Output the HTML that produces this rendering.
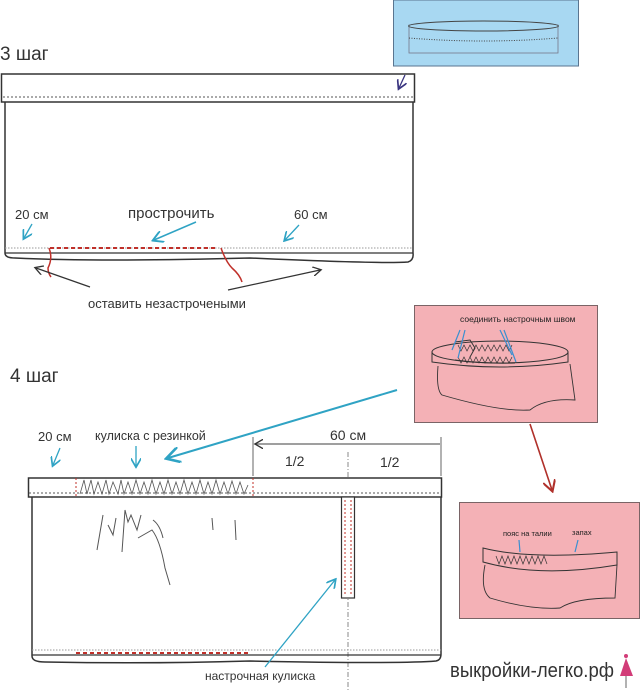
<!DOCTYPE html>
<html><head><meta charset="utf-8"><style>
html,body{margin:0;padding:0;background:#fff;}
svg{display:block;}
text{font-family:"Liberation Sans",sans-serif;fill:#333;}
</style></head><body>
<svg width="641" height="690" viewBox="0 0 641 690" xmlns="http://www.w3.org/2000/svg">
<defs>
<marker id="ab" markerWidth="8" markerHeight="8" refX="6" refY="4" orient="auto"><path d="M0,0 L7,4 L0,8" fill="none" stroke="#2fa3c4" stroke-width="1.3"/></marker>
<marker id="ak" markerWidth="8" markerHeight="8" refX="6" refY="4" orient="auto"><path d="M0,0 L7,4 L0,8" fill="none" stroke="#333" stroke-width="1.1"/></marker>
<marker id="ar" markerWidth="8" markerHeight="8" refX="6" refY="4" orient="auto"><path d="M0,0 L7,4 L0,8" fill="none" stroke="#b0302a" stroke-width="1.3"/></marker>
<marker id="ap" markerWidth="8" markerHeight="8" refX="6" refY="4" orient="auto"><path d="M0,0 L7,4 L0,8" fill="none" stroke="#3a3580" stroke-width="1.3"/></marker>
</defs>

<rect x="393.5" y="0" width="185" height="66" fill="#a8d8f2" stroke="#5a7590" stroke-width="1"/>
<rect x="409" y="25" width="149" height="28" fill="none" stroke="#778" stroke-width="0.8"/>
<ellipse cx="483.5" cy="26" rx="75" ry="5" fill="#a8d8f2" stroke="#444" stroke-width="1"/>
<path d="M409 38 Q483 44 558 38" fill="none" stroke="#444" stroke-dasharray="1,1.5"/>
<path d="M405 75 L399 88" stroke="#3a3580" stroke-width="1.3" marker-end="url(#ap)"/>

<text x="0" y="60" font-size="19">3 шаг</text>
<rect x="1.5" y="74" width="413" height="28" fill="none" stroke="#333" stroke-width="1.5"/>
<line x1="3" y1="97" x2="413" y2="97" stroke="#555" stroke-dasharray="2,2"/>
<path d="M5 102 L5 253 Q5 258 15 258 Q100 262 250 258 Q380 264 408 262 Q414 260 413 253 L413 102" fill="none" stroke="#333" stroke-width="1.5"/>
<line x1="5" y1="253" x2="413" y2="253" stroke="#333" stroke-width="1.3"/>
<line x1="5" y1="248" x2="413" y2="248" stroke="#999" stroke-dasharray="1.5,1.5"/>
<line x1="50" y1="248" x2="218" y2="248" stroke="#c0302a" stroke-width="2" stroke-dasharray="4,3"/>
<path d="M49 248 Q53 258 48 268 Q48 273 51 277" fill="none" stroke="#c0302a" stroke-width="1.5"/>
<path d="M221 248 Q226 262 232 268 Q240 275 242 282" fill="none" stroke="#c0302a" stroke-width="1.5"/>
<text x="15" y="219" font-size="13">20 см</text>
<text x="128" y="218" font-size="15">прострочить</text>
<text x="294" y="219" font-size="13">60 см</text>
<path d="M32 224 L24 238" stroke="#2fa3c4" stroke-width="1.3" marker-end="url(#ab)"/>
<path d="M196 222 L154 240" stroke="#2fa3c4" stroke-width="1.5" marker-end="url(#ab)"/>
<path d="M299 225 L285 240" stroke="#2fa3c4" stroke-width="1.3" marker-end="url(#ab)"/>
<path d="M90 287 L36 268" stroke="#333" stroke-width="1.2" marker-end="url(#ak)"/>
<path d="M228 290 L320 270" stroke="#333" stroke-width="1.2" marker-end="url(#ak)"/>
<text x="88" y="308" font-size="13">оставить незастрочеными</text>

<rect x="414.5" y="305.5" width="183" height="117" fill="#f4b1b6" stroke="#7a6466" stroke-width="1"/>
<text x="460" y="322" font-size="8.5" style="fill:#222">соединить настрочным швом</text>
<ellipse cx="500" cy="352" rx="68" ry="11" fill="none" stroke="#333" stroke-width="1"/>
<path d="M432 352 L432 362 Q500 372 568 362 L568 352" fill="none" stroke="#333"/>
<path d="M455 342 L470 340 L475 348 L470 357 M455 360 Q485 364 515 363" fill="none" stroke="#333"/>
<path d="M458 345 l3,6 l3,-6 l3,6 l3,-6 l3,6 l3,-6 l3,6 l3,-6 l3,6 l3,-6 l3,6 l3,-6 l3,6 l3,-6 l3,6 l3,-6 l3,6 l3,-6 M458 357 l3,6 l3,-6 l3,6 l3,-6 l3,6 l3,-6 l3,6 l3,-6 l3,6 l3,-6 l3,6 l3,-6 l3,6 l3,-6 l3,6 l3,-6 l3,6 l3,-6" fill="none" stroke="#333" stroke-width="0.7"/>
<path d="M438 366 Q436 390 442 395 Q500 412 530 410 Q545 398 575 400 L570 364" fill="none" stroke="#333" stroke-width="0.9"/>
<path d="M460 330 L452 350 M465 330 L458 358 M500 330 L512 355 M504 330 L516 362" stroke="#3a8fd0" stroke-width="1.2"/>
<path d="M530 424 L552 490" stroke="#b0302a" stroke-width="1.6" marker-end="url(#ar)"/>

<rect x="459.5" y="502.5" width="180" height="116" fill="#f4b1b6" stroke="#7a6466" stroke-width="1"/>
<text x="503" y="536" font-size="7.5" style="fill:#222">пояс на талии</text>
<text x="572" y="535" font-size="7.5" style="fill:#222">запах</text>
<path d="M519 540 L520 552 M578 540 L575 552" stroke="#3a8fd0" stroke-width="1.2"/>
<path d="M483 548 Q530 560 617 552 L617 565 Q540 578 483 562 Z" fill="none" stroke="#333"/>
<path d="M496 556 l3,8 l3,-8 l3,8 l3,-8 l3,8 l3,-8 l3,8 l3,-8 l3,8 l3,-8 l3,8 l3,-8 l3,8 l3,-8 l3,8 l3,-8 l3,8" fill="none" stroke="#333" stroke-width="0.7"/>
<path d="M485 565 Q480 590 490 598 Q530 610 560 608 Q575 598 615 598 L617 565" fill="none" stroke="#333" stroke-width="0.9"/>

<text x="10" y="382" font-size="19">4 шаг</text>
<path d="M397 390 L168 458" stroke="#2fa3c4" stroke-width="2" marker-end="url(#ab)"/>
<text x="38" y="441" font-size="13">20 см</text>
<text x="95" y="440" font-size="12.5">кулиска с резинкой</text>
<text x="330" y="440" font-size="14">60 см</text>
<path d="M60 448 L53 465" stroke="#2fa3c4" stroke-width="1.3" marker-end="url(#ab)"/>
<path d="M136 446 L136 466" stroke="#2fa3c4" stroke-width="1.3" marker-end="url(#ab)"/>
<line x1="253" y1="437" x2="253" y2="476" stroke="#666"/>
<line x1="441" y1="437" x2="441" y2="476" stroke="#666"/>
<path d="M440 444 L256 444" stroke="#666" stroke-width="1.2" marker-end="url(#ak)"/>
<text x="285" y="466" font-size="14">1/2</text>
<text x="380" y="467" font-size="14">1/2</text>
<line x1="348" y1="452" x2="348" y2="690" stroke="#888" stroke-dasharray="5,2,1,2"/>

<rect x="28.5" y="478" width="413" height="19" fill="#fff" stroke="#333" stroke-width="1.5"/>
<line x1="29" y1="493" x2="441" y2="493" stroke="#555" stroke-dasharray="2,2"/>
<line x1="76" y1="478" x2="76" y2="496" stroke="#c0302a" stroke-dasharray="2,2"/>
<line x1="253" y1="478" x2="253" y2="496" stroke="#c0302a" stroke-dasharray="2,2"/>
<path d="M80 494 L84 480 L87 494 L91 480 L94 494 L98 482 L102 494 L106 480 L109 494 L113 482 L118 494 L121 480 L124 494 L128 482 L132 494 L136 480 L140 494 L144 482 L148 494 L152 480 L156 494 L160 482 L164 494 L168 480 L172 494 L176 482 L180 494 L184 480 L188 494 L192 482 L196 494 L200 480 L204 494 L208 482 L212 494 L216 480 L220 494 L224 482 L228 494 L232 481 L236 494 L240 482 L244 494 L248 485" fill="none" stroke="#555" stroke-width="0.8"/>
<path d="M32 497 L32 656 Q32 662 45 662 Q150 664 250 661 Q400 664 436 661 Q441 660 441 654 L441 497" fill="none" stroke="#333" stroke-width="1.5"/>
<line x1="32" y1="655" x2="441" y2="655" stroke="#333" stroke-width="1.3"/>
<line x1="32" y1="650" x2="441" y2="650" stroke="#999" stroke-dasharray="1.5,1.5"/>
<line x1="76" y1="653" x2="250" y2="653" stroke="#c0302a" stroke-width="2" stroke-dasharray="4,3"/>
<rect x="341.5" y="497" width="13" height="101" fill="#fff" stroke="#333" stroke-width="1.2"/>
<line x1="345" y1="500" x2="345" y2="596" stroke="#c0302a" stroke-dasharray="2,2"/>
<line x1="351" y1="500" x2="351" y2="596" stroke="#c0302a" stroke-dasharray="2,2"/>
<path d="M97 550 L103 515 M108 525 L113 535 L116 518 M122 552 L125 510 L128 522 L131 515 L137 530 L141 515 M138 538 L152 530 Q160 540 165 568 L170 585 M153 520 Q160 525 163 538 M212 518 L213 530 M235 520 L236 540" fill="none" stroke="#555" stroke-width="1"/>
<path d="M265 667 L335 580" stroke="#2fa3c4" stroke-width="1.3" marker-end="url(#ab)"/>
<text x="205" y="680" font-size="12">настрочная кулиска</text>
<text x="450" y="677" font-size="20" textLength="164" lengthAdjust="spacingAndGlyphs" style="fill:#333">выкройки-легко.рф</text>
<path d="M626 658 L620 676 L633 676 Z" fill="#d23c78"/>
<circle cx="626" cy="656" r="2" fill="#d23c78"/>
<line x1="626" y1="676" x2="626" y2="688" stroke="#666"/>
</svg>
</body></html>
